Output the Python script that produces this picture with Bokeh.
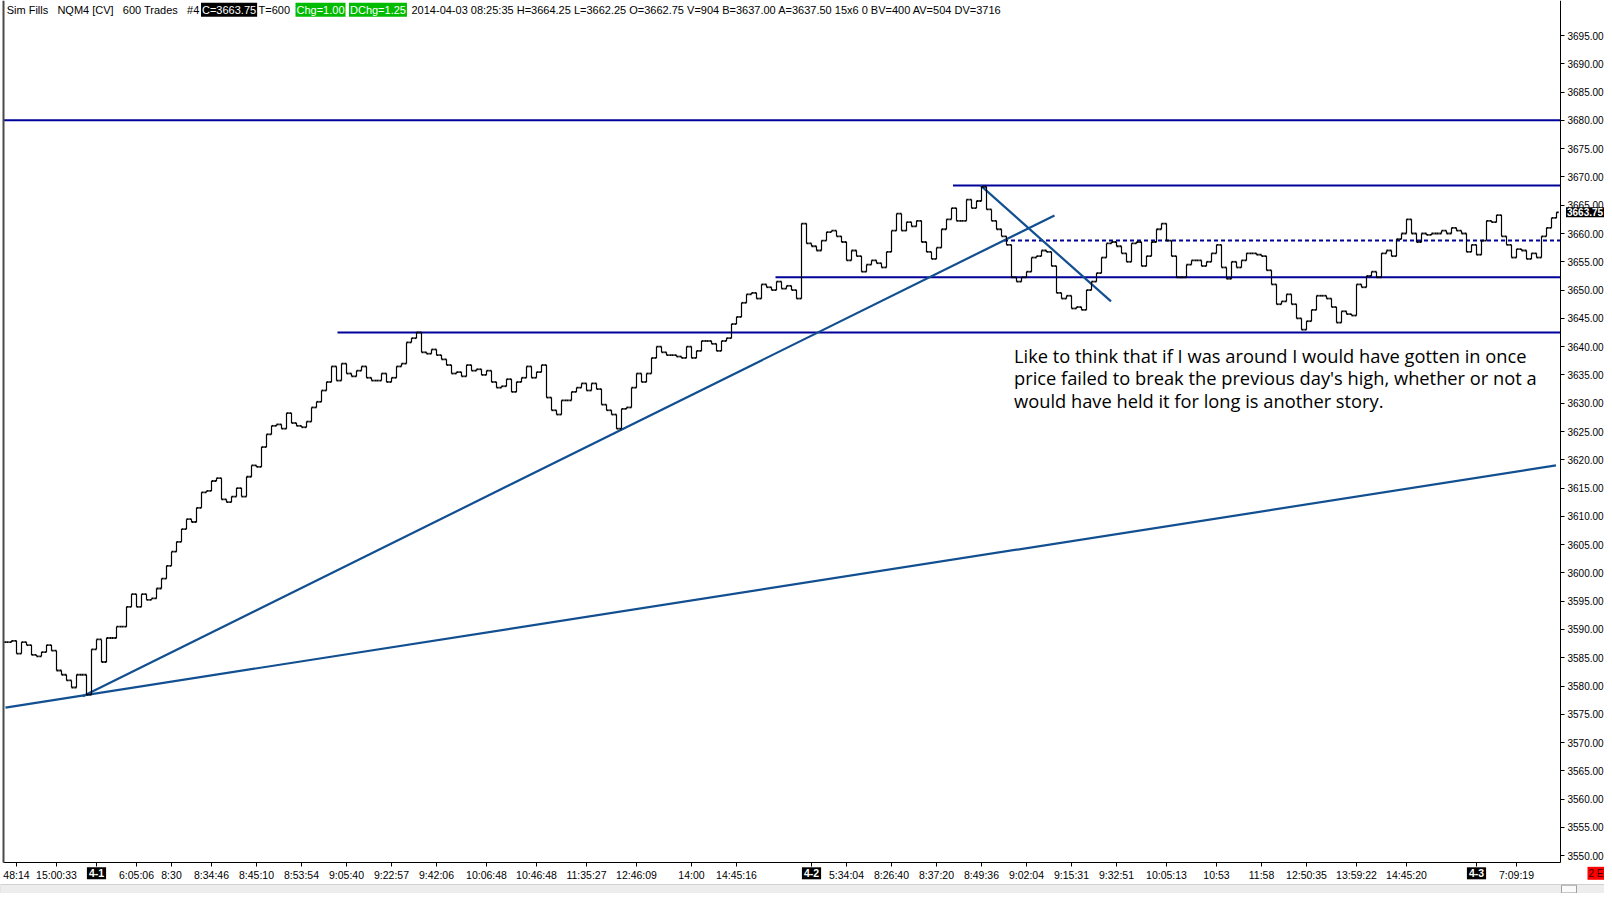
import numpy as np
from bokeh.plotting import figure
from bokeh.models import Range1d, FixedTicker, Label, NumeralTickFormatter, LinearAxis
from bokeh.embed import file_html
from bokeh.resources import INLINE

# ---------------- data ----------------
closes = [
    3587.75, 3588.0, 3585.75, 3587.75, 3587.25, 3585.5, 3585.25, 3586.0, 3587.25, 3586.25,
    3582.75, 3582.0, 3581.0, 3579.75, 3582.0, 3582.0, 3578.5, 3586.5, 3588.25, 3584.25,
    3588.5, 3588.5, 3590.5, 3590.5, 3594.0, 3596.25, 3594.0, 3596.25, 3595.25, 3595.5,
    3597.25, 3599.0, 3601.25, 3603.75, 3605.5, 3607.75, 3609.5, 3609.0, 3611.5, 3614.25,
    3614.5, 3616.25, 3616.75, 3613.0, 3612.5, 3613.5, 3615.0, 3613.5, 3617.0, 3619.0,
    3618.75, 3622.25, 3624.5, 3626.0, 3626.25, 3625.5, 3628.25, 3626.5, 3626.0, 3625.75,
    3626.75, 3629.25, 3630.25, 3632.25, 3633.75, 3636.5, 3634.0, 3637.0, 3635.25, 3634.75,
    3635.75, 3636.5, 3634.5, 3634.0, 3634.0, 3635.25, 3633.75, 3634.5, 3636.5, 3637.0,
    3640.75, 3641.5, 3642.5, 3639.0, 3638.75, 3639.5, 3638.5, 3637.75, 3636.75, 3635.25,
    3635.5, 3634.75, 3636.75, 3635.75, 3636.0, 3635.0, 3635.75, 3633.75, 3632.75, 3633.0,
    3634.25, 3632.0, 3633.75, 3634.5, 3636.5, 3634.5, 3635.5, 3636.75, 3631.0, 3628.75,
    3628.0, 3630.5, 3630.5, 3632.0, 3632.75, 3633.5, 3632.25, 3633.5, 3632.5, 3629.75,
    3628.75, 3628.0, 3625.5, 3629.0, 3629.25, 3632.75, 3635.25, 3633.75, 3635.25, 3638.0,
    3640.0, 3639.0, 3638.5, 3638.5, 3638.25, 3638.0, 3640.0, 3638.0, 3639.25, 3641.0,
    3641.0, 3640.5, 3639.25, 3641.0, 3641.5, 3644.0, 3645.25, 3647.75, 3649.25, 3649.5,
    3648.5, 3651.0, 3650.5, 3650.0, 3651.5, 3650.25, 3650.75, 3650.0, 3648.5, 3661.75,
    3658.25, 3657.75, 3657.0, 3658.75, 3660.25, 3660.5, 3659.5, 3658.5, 3655.25, 3657.0,
    3656.0, 3653.25, 3654.5, 3655.25, 3654.75, 3654.0, 3656.75, 3660.5, 3663.5, 3660.5,
    3662.0, 3661.25, 3662.25, 3658.5, 3656.75, 3655.5, 3657.5, 3660.75, 3662.5, 3664.5,
    3662.25, 3662.25, 3666.0, 3664.5, 3665.75, 3668.25, 3664.25, 3662.25, 3660.75, 3659.5,
    3658.0, 3652.25, 3651.5, 3652.25, 3653.25, 3655.75, 3656.0, 3657.0, 3656.75, 3654.25,
    3649.5, 3648.5, 3649.0, 3646.75, 3647.0, 3646.5, 3650.0, 3651.5, 3653.0, 3655.75,
    3658.25, 3658.5, 3657.75, 3656.5, 3655.0, 3658.25, 3658.5, 3654.25, 3656.0, 3658.5,
    3660.75, 3661.75, 3658.75, 3656.0, 3652.25, 3652.25, 3654.5, 3655.25, 3655.25, 3654.25,
    3655.0, 3656.5, 3658.0, 3654.0, 3652.0, 3655.0, 3654.0, 3655.25, 3656.5, 3656.5,
    3656.25, 3656.0, 3653.5, 3651.0, 3647.5, 3648.0, 3649.25, 3647.5, 3645.0, 3643.0,
    3644.5, 3646.5, 3649.0, 3649.0, 3648.5, 3647.0, 3644.25, 3646.25, 3645.75, 3645.5,
    3651.0, 3650.5, 3652.5, 3653.25, 3652.25, 3656.5, 3657.0, 3656.0, 3659.0, 3660.0,
    3662.5, 3660.0, 3658.5, 3660.0, 3659.75, 3660.0, 3660.0, 3660.5, 3660.0, 3661.0,
    3660.5, 3660.0, 3656.75, 3658.0, 3656.25, 3658.75, 3662.25, 3662.0, 3663.25, 3659.5,
    3658.0, 3655.75, 3657.25, 3657.0, 3655.5, 3656.5, 3655.75, 3659.5, 3661.0, 3662.75,
    3663.75,
]

tick_idx = [2, 10, 18, 26, 33, 41, 50, 59, 68, 77, 86, 96, 106, 116, 126, 137, 146,
            161, 168, 177, 186, 195, 204, 213, 222, 232, 242, 251, 260, 270, 280, 294, 302]
tick_labels = ["48:14", "15:00:33", "4-1", "6:05:06", "8:30", "8:34:46", "8:45:10",
               "8:53:54", "9:05:40", "9:22:57", "9:42:06", "10:06:48", "10:46:48",
               "11:35:27", "12:46:09", "14:00", "14:45:16",
               "4-2", "5:34:04", "8:26:40", "8:37:20", "8:49:36", "9:02:04", "9:15:31",
               "9:32:51", "10:05:13", "10:53", "11:58", "12:50:35", "13:59:22", "14:45:20",
               "4-3", "7:09:19"]
date_labels = ["4-1", "4-2", "4-3"]

price_ticks = list(range(3550, 3700, 5))

# horizontal levels and their start bar
h_levels = [3680.0, 3668.5, 3658.75, 3652.25, 3642.5]
h_start = [-0.6, 189.3, 199.5, 153.8, 66.2]
h_dash = ["solid", "solid", "4 3", "solid", "solid"]

# sloped trendlines (bar index, price)
tr_x0 = [-0.2, 15.25, 194.8]
tr_y0 = [3576.2, 3578.2, 3668.5]
tr_x1 = [309.9, 209.6, 220.9]
tr_y1 = [3619.0, 3663.2, 3648.0]

last_price = 3663.75

NB = "\u00a0"
header_parts = [
    "Sim Fills" + NB * 2 + " NQM4 [CV]" + NB * 2 + " 600 Trades" + NB * 2 + " #4",
    "C=3663.75", "T=600", "Chg=1.00", "DChg=1.25",
    "2014-04-03 08:25:35 H=3664.25 L=3662.25 O=3662.75 V=904 B=3637.00 "
    "A=3637.50 15x6 0 BV=400 AV=504 DV=3716",
]

note_lines = [
    "Like to think that if I was around I would have gotten in once",
    "price failed to break the previous day's high, whether or not a",
    "would have held it for long is another story.",
]

# ---------------- layout constants ----------------
X_MIN, X_MAX = -1.2, 319.6          # whole canvas in bar units
Y_MIN, Y_MAX = 3543.33, 3701.19     # whole canvas in price units
X_AXIS_AT = 3548.81                 # price level where the time axis sits
Y_AXIS_AT = 310.8                   # bar position where the price axis sits
LEFT_EDGE = -0.6

p = figure(frame_width=1604, frame_height=893,
           x_range=Range1d(X_MIN, X_MAX), y_range=Range1d(Y_MIN, Y_MAX),
           y_axis_location="right", output_backend="svg", toolbar_location=None,
           min_border_left=0, min_border_top=0, min_border_right=0, min_border_bottom=0)
p.background_fill_color = "white"
p.border_fill_color = "white"
p.outline_line_color = None
p.xgrid.visible = False
p.ygrid.visible = False

AX_FONT = "Liberation Sans"

# price axis (right)
p.yaxis.fixed_location = Y_AXIS_AT
p.yaxis.bounds = (X_AXIS_AT, Y_MAX)
p.yaxis.ticker = FixedTicker(ticks=price_ticks)
p.yaxis.formatter = NumeralTickFormatter(format="0.00")
p.yaxis.major_tick_in = 0
p.yaxis.major_tick_out = 4
p.yaxis.minor_tick_line_color = None
p.yaxis.major_label_standoff = 3
p.yaxis.major_label_text_font = AX_FONT
p.yaxis.major_label_text_font_size = "10px"
p.yaxis.major_label_text_color = "black"
p.yaxis.axis_line_color = "black"

# time axis (bottom)
overrides = {}
for t, l in zip(tick_idx, tick_labels):
    overrides[t] = "" if l in date_labels else l
p.xaxis.fixed_location = X_AXIS_AT
p.xaxis.bounds = (LEFT_EDGE, Y_AXIS_AT)
p.xaxis.ticker = FixedTicker(ticks=tick_idx)
p.xaxis.major_label_overrides = overrides
p.xaxis.major_tick_in = 0
p.xaxis.major_tick_out = 4
p.xaxis.minor_tick_line_color = None
p.xaxis.major_label_standoff = 2
p.xaxis.major_label_text_font = AX_FONT
p.xaxis.major_label_text_font_size = "10.5px"
p.xaxis.major_label_text_color = "black"
p.xaxis.axis_line_color = "black"

# left border of the chart window
left_axis = LinearAxis(fixed_location=LEFT_EDGE, bounds=(X_AXIS_AT, Y_MAX),
                       ticker=FixedTicker(ticks=[]), axis_line_color="#4a4a4a",
                       axis_line_width=2, major_tick_line_color=None,
                       minor_tick_line_color=None, major_label_text_font_size="0px")
p.add_layout(left_axis, "left")

# ---------------- lines ----------------
for lv, st, ds in zip(h_levels, h_start, h_dash):
    p.line([st, Y_AXIS_AT], [lv, lv], line_color="#00009A", line_width=2, line_dash=ds)

p.segment(tr_x0, tr_y0, tr_x1, tr_y1, line_color="#114F91", line_width=2.2)

# ---------------- bars ----------------
c = np.array(closes)
o = np.concatenate([[c[0]], c[:-1]])
idx = np.arange(len(c))
hi = np.maximum(o, c)
lo = np.minimum(o, c)
p.segment(idx, lo, idx, hi, line_color="black", line_width=1.2)
p.segment(idx - 0.45, o, idx, o, line_color="black", line_width=1.8)
p.segment(idx, c, idx + 0.45, c, line_color="black", line_width=1.8)

# ---------------- window scrollbar strip ----------------
p.quad(left=[X_MIN], right=[X_MAX], bottom=[Y_MIN], top=[3544.92],
       fill_color="#EDEDED", line_color="#D0D0D0")
p.quad(left=[311.0], right=[314.0], bottom=[Y_MIN + 0.1], top=[3544.8],
       fill_color="#FAFAFA", line_color="#A0A0A0")

# ---------------- text ----------------
TOP_Y = 3699.54
hdr_x = [0.04, 38.9, 50.4, 57.8, 68.5, 81.0]
hdr_col = ["black", "white", "black", "white", "white", "black"]
hdr_bg = [None, "black", None, "#00BB00", "#00BB00", None]
for x, t, col, bg in zip(hdr_x, header_parts, hdr_col, hdr_bg):
    kw = {}
    if bg is not None:
        kw["background_fill_color"] = bg
        kw["padding"] = 1
    p.add_layout(Label(x=x, y=TOP_Y, text=t, text_color=col, text_font=AX_FONT,
                       text_font_size="11px", text_align="left", text_baseline="middle", **kw))

for t, l in zip(tick_idx, tick_labels):
    if l in date_labels:
        p.add_layout(Label(x=t, y=3546.9, text=l, text_color="white",
                           background_fill_color="black", text_font=AX_FONT,
                           text_font_style="bold", padding=2,
                           text_font_size="10.5px", text_align="center", text_baseline="middle"))

p.add_layout(Label(x=311.9, y=last_price, text="3663.75", text_color="white",
                   background_fill_color="black", text_font=AX_FONT, text_font_style="bold",
                   text_font_size="10px", padding=1,
                   text_align="left", text_baseline="middle"))
p.add_layout(Label(x=316.2, y=3546.9, text="2 E", text_color="#400000",
                   background_fill_color="#FF0000", text_font=AX_FONT, padding=1,
                   text_font_size="10px", text_align="left", text_baseline="middle"))

for line, yy in zip(note_lines, [3638.5, 3634.5, 3630.5]):
    p.add_layout(Label(x=201.5, y=yy, text=line, text_color="black", text_font="Open Sans",
                       text_font_size="18.3px", text_align="left", text_baseline="middle"))

open("out.html", "w").write(file_html(p, INLINE))
